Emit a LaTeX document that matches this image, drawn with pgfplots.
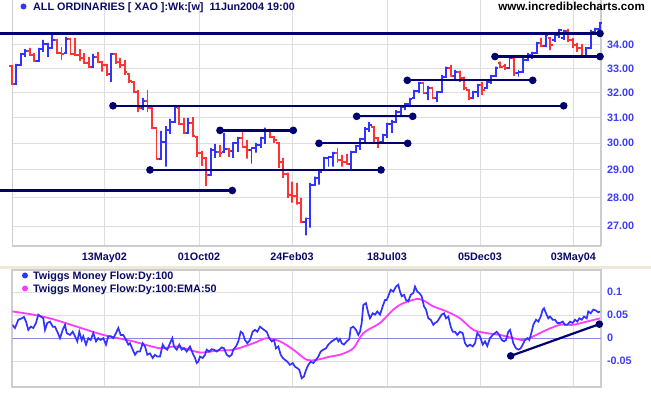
\documentclass[border=0pt]{standalone}
\usepackage{fontspec}
\setmainfont{Liberation Sans}
\setsansfont{Liberation Sans}
\usepackage{pgfplots}
\usepackage{pgfplotstable}
\pgfplotsset{compat=1.18}
\definecolor{barblue}{RGB}{51,51,255}
\definecolor{barred}{RGB}{255,51,51}
\definecolor{navyl}{RGB}{0,0,110}
\definecolor{txtnavy}{RGB}{10,10,100}
\definecolor{gridc}{RGB}{222,222,222}
\definecolor{axisc}{RGB}{205,205,205}
\definecolor{pinkc}{RGB}{255,60,255}
\definecolor{zeroc}{RGB}{135,135,225}
\definecolor{lblue}{RGB}{60,60,255}
\definecolor{bandc}{RGB}{236,233,216}

% weekly bars: i open high low close up(1)/down(0)
\pgfplotstableread{
i o h l c u
0 33.11 33.15 32.35 32.35 0
1 32.35 33.19 32.35 33.15 1
2 33.15 33.65 33.15 33.61 1
3 33.61 33.82 33.49 33.74 1
4 33.74 33.87 33.53 33.57 0
5 33.57 33.65 33.28 33.32 0
6 33.32 33.87 33.28 33.82 1
7 33.82 34.22 33.70 34.04 1
8 34.04 34.09 33.49 33.87 1
9 33.87 34.48 33.87 34.22 1
10 34.22 34.22 33.65 33.65 0
11 33.65 33.91 33.36 33.61 0
12 33.65 34.35 33.65 34.26 1
13 34.26 34.31 33.57 33.61 0
14 33.61 34.31 33.53 33.57 0
15 33.57 33.82 33.32 33.44 0
16 33.44 33.65 33.19 33.23 0
17 33.23 33.49 33.02 33.07 0
18 33.07 33.61 33.02 33.49 1
19 33.49 33.70 33.23 33.28 0
20 33.28 33.32 32.86 33.15 0
21 33.15 33.19 32.69 32.77 0
22 32.77 33.65 32.44 33.61 1
23 33.61 33.65 33.19 33.28 0
24 33.28 33.44 33.02 33.15 0
25 33.15 33.36 32.73 32.86 0
26 32.77 32.77 32.39 32.48 0
27 32.44 32.44 31.98 32.02 0
28 32.02 32.11 31.22 31.38 0
29 31.38 31.78 31.30 31.66 1
30 31.66 32.11 31.22 31.38 0
31 31.38 31.50 30.56 30.60 0
32 30.60 30.63 29.38 29.42 0
33 29.42 30.48 29.38 30.05 1
34 30.05 30.67 29.12 30.52 1
35 30.52 30.95 30.36 30.83 1
36 30.83 31.50 30.83 31.42 1
37 31.38 31.38 30.71 30.75 0
38 30.75 30.99 30.36 30.40 0
39 30.40 30.99 30.36 30.79 1
40 30.79 31.02 30.25 30.28 0
41 30.25 30.25 29.49 29.64 0
42 29.64 29.71 29.15 29.45 0
43 29.45 29.49 28.42 28.82 0
44 28.82 29.83 28.82 29.75 1
45 29.75 29.98 29.45 29.67 1
46 29.67 29.94 29.49 29.64 0
47 29.67 30.40 29.67 29.79 1
48 29.79 29.79 29.49 29.71 0
49 29.71 30.02 29.45 30.02 1
50 30.02 30.25 29.67 30.21 1
51 30.21 30.48 29.83 29.86 0
52 29.86 30.13 29.42 29.75 0
53 29.75 29.86 29.23 29.83 1
54 29.83 30.02 29.64 29.94 1
55 29.94 30.25 29.83 30.21 1
56 30.21 30.60 29.98 30.52 1
57 30.52 30.56 30.21 30.25 0
58 30.25 30.25 30.02 30.13 0
59 30.02 30.02 29.08 29.30 0
60 29.30 29.45 28.71 28.86 0
61 28.86 28.90 27.99 28.10 0
62 28.10 28.57 27.82 28.06 0
63 28.06 28.53 27.75 27.82 0
64 27.82 27.99 27.15 27.15 0
65 27.15 27.29 26.68 27.26 1
66 27.26 28.53 26.95 28.46 1
67 28.46 28.75 28.46 28.71 1
68 28.71 28.93 28.46 28.93 1
69 29.01 29.49 29.01 29.45 1
70 29.45 29.52 29.12 29.49 1
71 29.49 29.67 29.12 29.64 1
72 29.64 29.83 29.27 29.38 0
73 29.38 29.56 29.12 29.30 0
74 29.30 29.60 29.19 29.23 0
75 29.23 29.71 29.01 29.67 1
76 29.67 29.94 29.67 29.90 1
77 29.90 30.21 29.75 30.17 1
78 30.17 30.63 30.05 30.56 1
79 30.56 30.83 30.44 30.71 1
80 30.63 30.63 29.98 30.21 0
81 30.21 30.21 29.83 30.05 0
82 30.05 30.36 30.02 30.32 1
83 30.32 30.79 30.21 30.75 1
84 30.75 30.91 30.40 30.83 1
85 30.83 31.30 30.79 31.22 1
86 31.22 31.42 31.10 31.42 1
87 31.42 31.58 31.30 31.54 1
88 31.54 31.78 31.42 31.74 1
89 31.78 32.11 31.78 32.07 1
90 32.07 32.44 31.98 32.39 1
91 32.39 32.44 31.94 31.98 0
92 31.98 32.27 31.70 32.19 1
93 32.19 32.23 31.74 31.78 0
94 31.78 32.02 31.62 32.02 1
95 32.02 32.73 32.02 32.65 1
96 32.65 33.07 32.60 33.02 1
97 33.02 33.15 32.65 32.69 0
98 32.69 32.94 32.52 32.86 1
99 32.86 32.90 32.44 32.60 0
100 32.60 32.65 32.11 32.19 0
101 32.11 32.11 31.70 31.78 0
102 31.78 32.07 31.74 32.02 1
103 32.02 32.35 31.82 32.31 1
104 32.31 32.44 31.90 32.11 0
105 32.19 32.44 32.19 32.44 1
106 32.44 32.73 32.35 32.69 1
107 32.69 33.07 32.65 33.02 1
108 33.23 33.28 33.02 33.07 0
109 33.11 33.19 32.94 33.02 0
110 33.02 33.49 32.98 33.44 1
111 33.44 33.57 32.69 32.81 0
112 32.81 32.94 32.65 32.86 1
113 32.86 33.44 32.81 33.36 1
114 33.36 33.65 33.36 33.57 1
115 33.57 33.70 33.40 33.65 1
116 33.65 34.13 33.65 34.09 1
117 34.09 34.31 33.91 33.96 0
118 33.96 34.53 33.91 34.44 1
119 34.31 34.31 33.78 34.00 0
120 34.22 34.53 34.13 34.44 1
121 34.44 34.70 34.31 34.66 1
122 34.31 34.66 34.22 34.62 1
123 34.62 34.70 34.13 34.22 0
124 34.22 34.31 33.87 34.00 0
125 34.00 34.09 33.70 33.87 0
126 33.87 34.04 33.49 33.53 0
127 33.53 33.91 33.44 33.87 1
128 33.87 34.66 33.87 34.57 1
129 34.57 34.75 34.53 34.70 1
130 34.70 35.01 34.66 34.97 1
}\bars

% support / resistance lines: start, end (chart position), price
\pgfplotstableread{
xa xb p
0 600 34.5
0 232.3 28.25
113 563.7 31.47
356.7 412.7 31.05
407.3 532.7 32.5
495 600 33.5
220 293.3 30.5
150 381 29.0
319 407.7 30.0
}\levels

% Twiggs Money Flow (x = chart position)
\pgfplotstableread{
x v
12.3 0.029
15.0 0.022
18.3 0.040
21.7 0.043
24.0 0.046
26.0 0.036
28.3 0.018
30.7 0.025
33.3 0.022
36.0 0.033
38.3 0.051
40.7 0.047
43.3 0.043
45.0 0.018
47.3 0.033
50.0 0.036
52.7 0.025
55.0 0.025
57.3 0.014
60.0 0.000
62.7 0.018
65.0 0.029
66.7 0.011
70.0 0.007
72.7 0.014
75.0 0.004
77.3 -0.007
79.3 0.014
81.7 -0.004
83.3 0.004
86.0 -0.014
88.3 0.000
90.7 -0.004
93.3 0.011
96.0 -0.007
98.3 0.000
100.7 -0.004
103.3 0.000
106.0 -0.014
108.3 0.004
111.0 0.004
113.3 0.000
116.0 0.011
118.3 0.022
120.7 0.007
123.3 0.007
126.0 -0.004
128.3 -0.014
130.0 -0.011
132.7 -0.025
135.0 -0.036
137.3 -0.029
140.0 -0.029
142.7 -0.011
145.0 -0.018
147.3 -0.036
150.0 -0.033
152.7 -0.043
155.0 -0.036
157.3 -0.040
160.0 -0.040
162.7 -0.014
165.0 -0.022
167.3 -0.025
170.0 -0.011
172.3 0.000
174.0 -0.018
176.7 -0.025
179.3 -0.014
181.7 -0.025
184.0 -0.022
186.7 -0.029
190.0 -0.018
192.7 -0.033
195.0 -0.043
196.7 -0.054
198.3 -0.051
200.0 -0.040
202.7 -0.043
205.0 -0.036
206.7 -0.025
209.3 -0.029
211.7 -0.024
214.0 -0.025
216.7 -0.029
219.3 -0.025
221.7 -0.020
224.0 -0.022
226.7 -0.036
229.3 -0.040
231.7 -0.036
233.3 -0.025
236.0 -0.018
238.3 -0.007
240.7 0.014
242.7 0.011
245.0 -0.004
247.3 -0.011
250.0 -0.004
252.7 0.014
255.0 0.018
257.3 0.014
260.0 0.025
261.7 0.022
264.0 0.018
266.7 0.014
269.3 0.000
271.7 -0.007
274.0 -0.004
276.0 -0.022
278.3 -0.018
280.7 -0.036
282.7 -0.043
285.0 -0.047
287.3 -0.051
290.0 -0.058
292.7 -0.054
295.0 -0.062
297.3 -0.065
299.3 -0.069
301.7 -0.087
304.0 -0.083
306.0 -0.069
308.3 -0.058
310.7 -0.051
313.3 -0.054
316.0 -0.047
318.3 -0.040
320.7 -0.029
323.3 -0.025
326.0 -0.022
328.3 -0.014
331.7 -0.007
334.0 -0.004
336.7 0.000
338.3 -0.007
340.0 -0.002
341.7 -0.011
344.0 -0.014
346.7 -0.007
349.3 -0.002
350.7 0.022
353.3 0.025
356.0 0.018
358.3 0.007
360.0 0.014
361.7 0.033
363.3 0.072
366.0 0.076
368.3 0.054
370.0 0.043
372.7 0.054
375.0 0.051
377.3 0.058
380.0 0.051
382.7 0.069
385.0 0.083
386.7 0.083
388.3 0.091
390.7 0.105
393.3 0.101
396.0 0.112
398.3 0.116
400.0 0.101
401.7 0.091
404.0 0.094
406.0 0.083
408.3 0.080
410.7 0.094
413.3 0.098
415.0 0.112
417.3 0.101
419.3 0.098
421.7 0.091
424.0 0.069
426.0 0.062
428.3 0.043
430.7 0.040
433.3 0.029
435.0 0.033
437.3 0.036
439.3 0.043
441.7 0.051
444.0 0.054
446.0 0.043
448.3 0.047
450.7 0.025
452.7 0.014
455.0 0.014
457.3 0.007
460.0 0.014
462.7 0.011
465.0 -0.011
467.3 -0.018
470.0 -0.014
472.7 -0.018
475.0 -0.011
477.3 0.011
480.0 0.004
482.7 -0.014
485.0 -0.007
487.3 -0.017
490.0 0.000
492.7 0.007
495.0 0.011
496.7 0.014
499.3 0.007
501.7 -0.004
504.0 -0.007
506.0 -0.004
508.3 0.014
510.0 0.018
511.7 0.004
513.3 -0.011
516.0 -0.022
518.3 -0.025
520.7 -0.022
522.7 -0.014
525.0 -0.004
527.3 0.000
529.3 -0.004
531.7 0.014
533.3 0.029
536.0 0.040
538.3 0.036
540.7 0.047
542.7 0.062
544.0 0.065
546.0 0.054
548.3 0.043
550.0 0.047
552.7 0.040
555.0 0.040
557.3 0.033
560.0 0.033
562.7 0.036
565.0 0.029
567.3 0.029
570.0 0.036
572.7 0.033
575.0 0.040
577.3 0.036
579.3 0.043
581.7 0.040
584.0 0.047
586.7 0.043
588.3 0.058
590.7 0.054
593.3 0.062
596.0 0.060
598.3 0.056
600.0 0.058
}\tmf

\pgfplotstableread{
x v
12.3 0.058
33.3 0.051
53.3 0.041
76.7 0.025
100.0 0.009
113.3 0.002
133.3 -0.007
160.0 -0.022
176.7 -0.018
200.0 -0.031
216.7 -0.027
233.3 -0.025
253.3 -0.011
266.7 0.000
280.0 -0.007
293.3 -0.025
306.7 -0.047
316.7 -0.047
330.0 -0.040
340.0 -0.036
353.3 -0.022
363.3 0.011
380.0 0.033
393.3 0.062
403.3 0.076
416.7 0.085
423.3 0.082
433.3 0.069
446.7 0.058
460.0 0.043
473.3 0.018
486.7 0.011
500.0 0.007
513.3 0.000
523.3 -0.004
533.3 0.004
546.7 0.018
560.0 0.029
573.3 0.029
586.7 0.036
600.0 0.043
}\ema

\begin{document}
\begin{tikzpicture}
\useasboundingbox (0pt,0pt) rectangle (651pt,395pt);
\fill[bandc] (0pt,125.5pt) rectangle (651pt,128.5pt);
\pgfplotsset{
  every axis/.append style={
    scale only axis, width=588.7pt, xmin=12.3, xmax=601,
    xtick={104.3,199,292,387,480,573.3},
    major tick length=0pt, grid=major,
    major grid style={gridc, line width=0.9pt},
    ticklabel style={font=\fontsize{10.8}{12}\selectfont\bfseries},
    yticklabel pos=right,
    yticklabel style={lblue, xshift=2.5pt},
  }
}
% upper panel: price on a logarithmic scale (plotted as ln(price))
\begin{axis}[at={(12.3pt,149pt)}, anchor=south west, height=246pt,
  ymin=3.27033, ymax=3.58352, clip=false,
  axis x line*=bottom, axis y line*=box,
  axis line style={-, draw=axisc, line width=1.6pt},
  xticklabels={13May02,01Oct02,24Feb03,18Jul03,05Dec03,03May04},
  xticklabel style={txtnavy, yshift=-3pt},
  ytick={3.295837,3.332205,3.367296,3.401197,3.433987,3.465736,3.496508,3.526361},
  yticklabels={27.00,28.00,29.00,30.00,31.00,32.00,33.00,34.00},
]
\pgfplotsinvokeforeach{0,...,130}{%
  \pgfplotstablegetelem{#1}{o}\of\bars\pgfmathsetmacro\vO{ln(\pgfplotsretval)}%
  \pgfplotstablegetelem{#1}{h}\of\bars\pgfmathsetmacro\vH{ln(\pgfplotsretval)}%
  \pgfplotstablegetelem{#1}{l}\of\bars\pgfmathsetmacro\vL{ln(\pgfplotsretval)}%
  \pgfplotstablegetelem{#1}{c}\of\bars\pgfmathsetmacro\vC{ln(\pgfplotsretval)}%
  \pgfplotstablegetelem{#1}{u}\of\bars\let\vU\pgfplotsretval
  \pgfmathsetmacro\xc{11.7+4.525*#1}%
  \pgfmathsetmacro\xa{\xc-2.4}%
  \pgfmathsetmacro\xb{\xc+2.4}%
  \ifnum\vU=1 \def\bc{barblue}\else\def\bc{barred}\fi
  \edef\doplot{\noexpand\addplot[\bc, line width=1.9pt, forget plot] coordinates {(\xa,\vO) (\xc,\vO) (\xc,\vH) (\xc,\vL) (\xc,\vC) (\xb,\vC)};}%
  \doplot
}
\pgfplotsinvokeforeach{0,...,8}{%
  \pgfplotstablegetelem{#1}{xa}\of\levels\let\la\pgfplotsretval
  \pgfplotstablegetelem{#1}{xb}\of\levels\let\lb\pgfplotsretval
  \pgfplotstablegetelem{#1}{p}\of\levels\pgfmathsetmacro\lp{ln(\pgfplotsretval)}%
  \ifdim\la pt<1pt \def\mi{mark indices={2}}\else\def\mi{mark indices={1,2}}\fi
  \edef\doplot{\noexpand\addplot[navyl, line width=2.3pt, mark=*, mark size=2.6pt, mark options={solid, fill=navyl}, \mi, forget plot] coordinates {(\la,\lp) (\lb,\lp)};}%
  \doplot
}
\end{axis}

\begin{axis}[at={(12.3pt,8pt)}, anchor=south west, height=117pt,
  ymin=-0.106, ymax=0.148,
  axis line style={-, draw=axisc, line width=1.6pt},
  xticklabels={},
  ytick={-0.05,0,0.05,0.1},
  yticklabels={-0.05,0,0.05,0.1},
]
\addplot[zeroc, line width=1pt, forget plot] coordinates {(12.3,0) (601,0)};
\addplot[pinkc, line width=1.8pt, smooth, forget plot] table[x=x, y=v] {\ema};
\addplot[barblue, line width=1.7pt, forget plot] table[x=x, y=v] {\tmf};
\addplot[navyl, line width=2.2pt, mark=*, mark size=2.6pt, mark options={fill=navyl}, forget plot] coordinates {(510.7,-0.0385) (599.3,0.0304)};
\end{axis}

\fill[barblue] (23.5pt,388.5pt) circle (3pt);
\node[anchor=base west, inner sep=0pt, txtnavy, font=\fontsize{10.8}{12}\selectfont\bfseries] at (33pt,384.3pt) {ALL ORDINARIES [ XAO ]:Wk:[w]\ \ 11Jun2004 19:00};
\node[anchor=base east, inner sep=0pt, black, font=\fontsize{11.6}{13}\selectfont\bfseries] at (645pt,384pt) {www.incrediblecharts.com};
\fill[barblue] (25pt,119.5pt) circle (3pt);
\fill[pinkc] (25pt,106.5pt) circle (3pt);
\node[anchor=base west, inner sep=0pt, txtnavy, font=\fontsize{10.8}{12}\selectfont\bfseries] at (33pt,115.3pt) {Twiggs Money Flow:Dy:100};
\node[anchor=base west, inner sep=0pt, txtnavy, font=\fontsize{10.8}{12}\selectfont\bfseries] at (33pt,102.3pt) {Twiggs Money Flow:Dy:100:EMA:50};
\end{tikzpicture}
\end{document}
